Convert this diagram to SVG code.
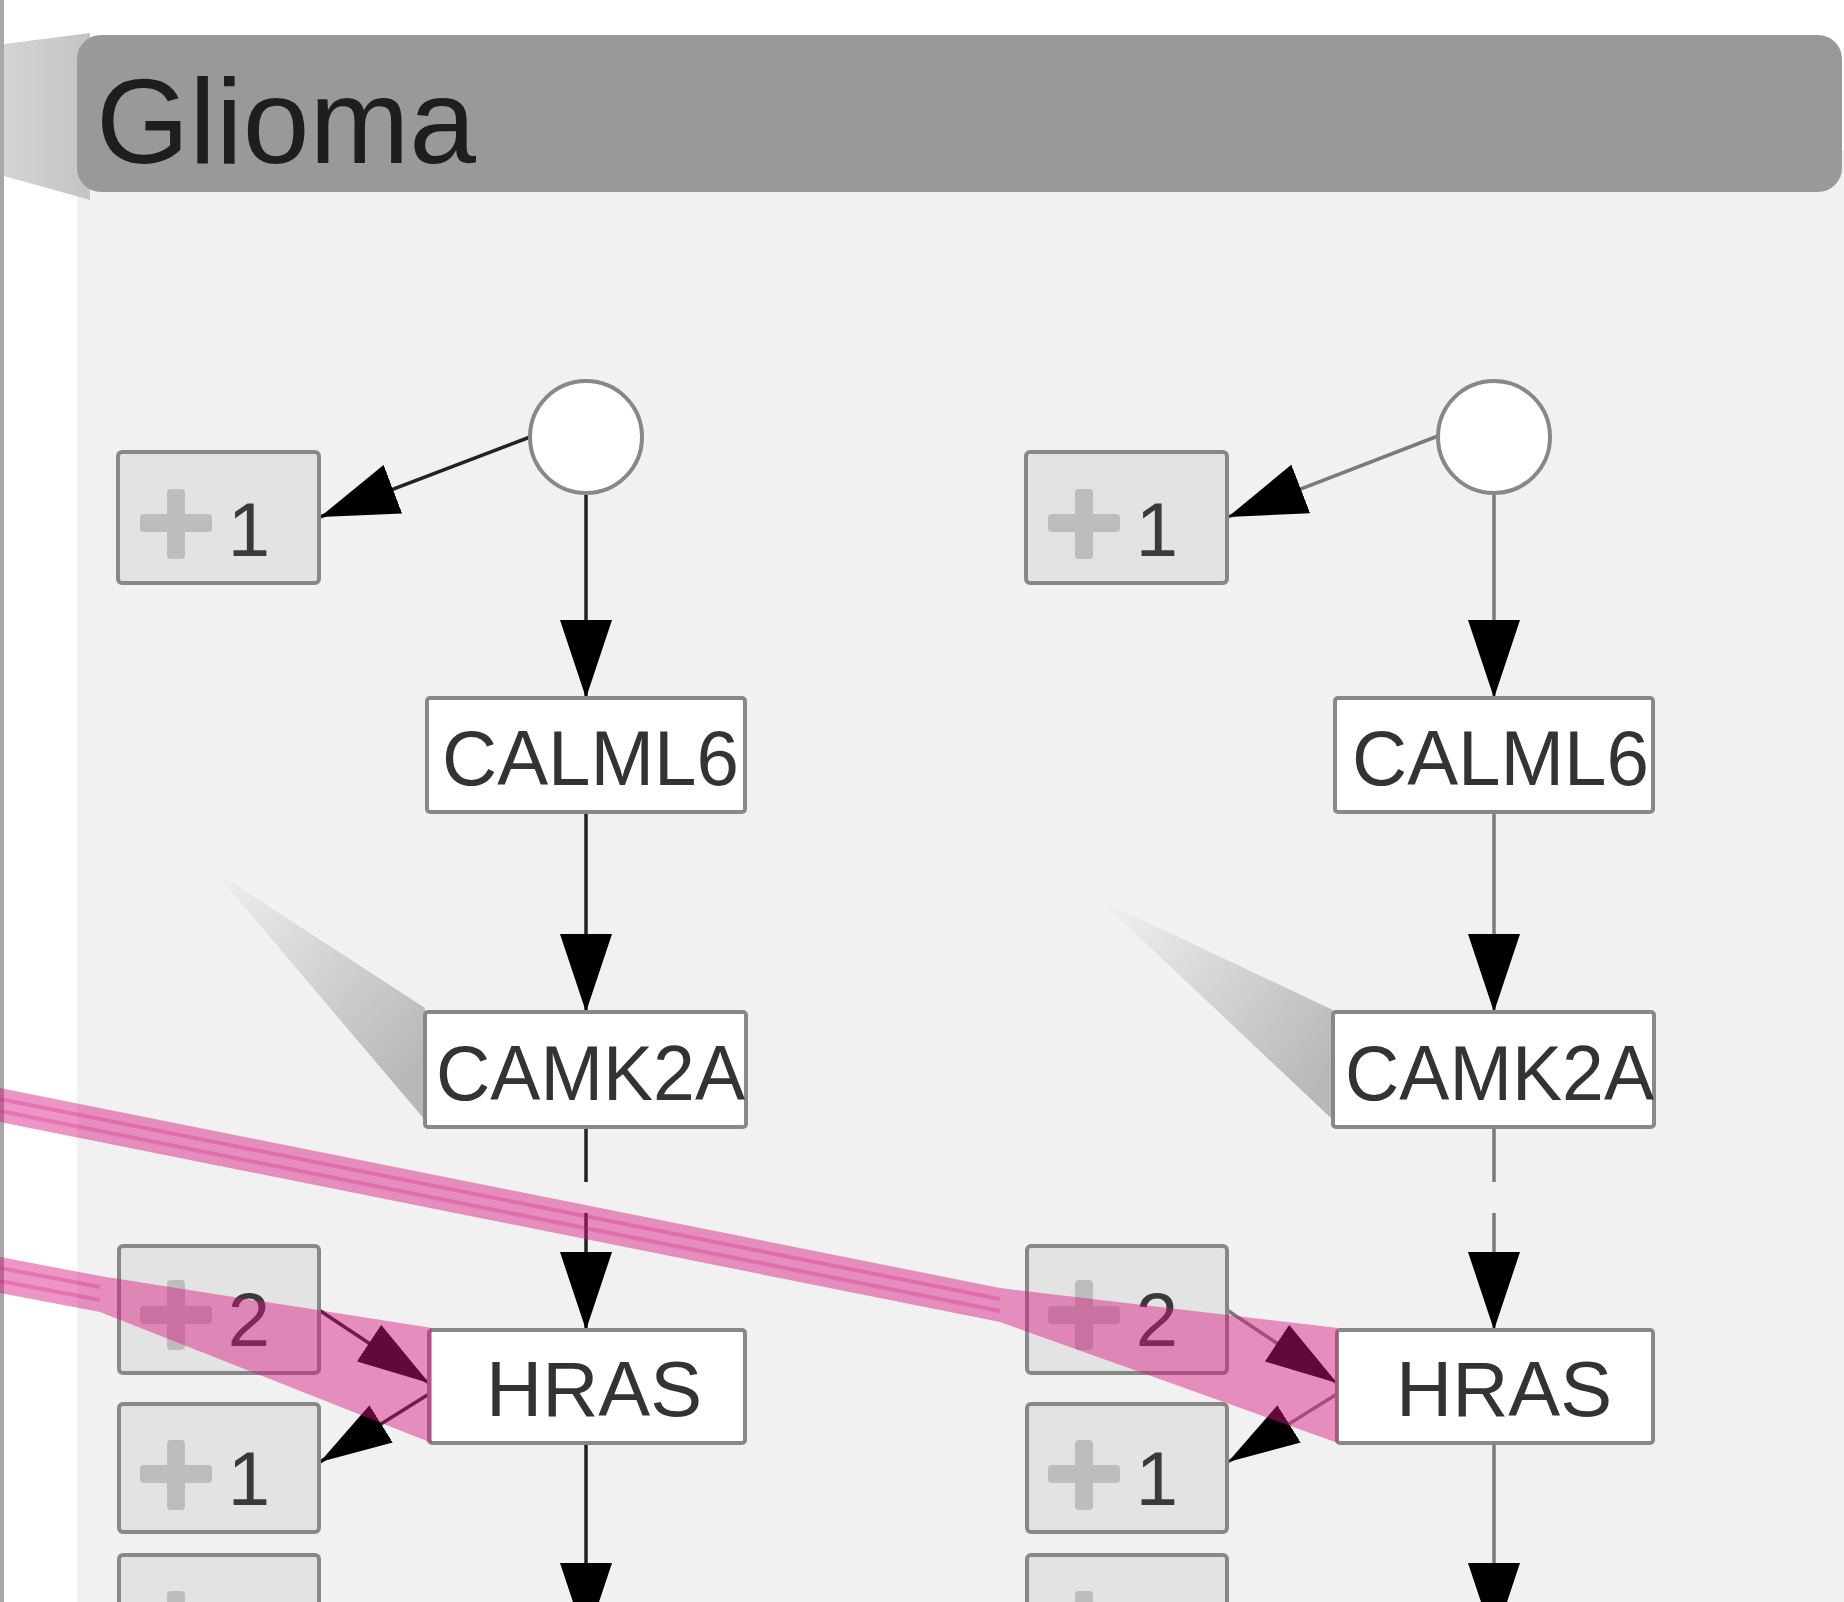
<svg xmlns="http://www.w3.org/2000/svg" width="1844" height="1602" viewBox="0 0 1844 1602">
  <defs>
    <style>
      .edge { stroke:#222; stroke-width:3.5; fill:none; }
      .edgeR { stroke:#7a7a7a; stroke-width:3.5; fill:none; }
      .dash { stroke-dasharray:55 31; }
      .gene rect { fill:#fff; stroke:#888; stroke-width:4; }
      .lbl { font-family:"Liberation Sans", Arial, sans-serif; font-size:78px; fill:#333; }
      .cnt rect.box { fill:#e3e3e3; stroke:#888; stroke-width:4; }
      .plus { fill:#bdbdbd; }
      .num { font-family:"Liberation Sans", Arial, sans-serif; font-size:76px; fill:#3a3a3a; text-anchor:middle; }
      .pink { fill:rgb(214,20,125); fill-opacity:0.45; }
      .pinkline { stroke:rgb(214,20,125); stroke-opacity:0.25; stroke-width:4; fill:none; }
      .anchor { fill:#fff; stroke:#888; stroke-width:4; }
    </style>
    <marker id="ah" viewBox="0 0 78 52" refX="78" refY="26" markerWidth="78" markerHeight="52" orient="auto" markerUnits="userSpaceOnUse">
      <path d="M0,0 L78,26 L0,52 z" fill="#000"/>
    </marker>
    <marker id="ahs" viewBox="0 0 72 44" refX="72" refY="22" markerWidth="72" markerHeight="44" orient="auto" markerUnits="userSpaceOnUse">
      <path d="M0,0 L72,22 L0,44 z" fill="#000"/>
    </marker>
    <linearGradient id="shL" gradientUnits="userSpaceOnUse" x1="213" y1="870" x2="423" y2="1062">
      <stop offset="0" stop-color="#f0f0f0"/>
      <stop offset="1" stop-color="#b8b8b8"/>
    </linearGradient>
    <linearGradient id="shR" gradientUnits="userSpaceOnUse" x1="1100" y1="900" x2="1333" y2="1065">
      <stop offset="0" stop-color="#f2f2f2"/>
      <stop offset="1" stop-color="#b8b8b8"/>
    </linearGradient>
    <linearGradient id="side" x1="0" y1="0" x2="1" y2="0">
      <stop offset="0" stop-color="#d4d4d4"/>
      <stop offset="1" stop-color="#c4c4c4"/>
    </linearGradient>
  </defs>

  <!-- background / group frame -->
  <g id="background">
    <rect x="0" y="0" width="1844" height="1602" fill="#ffffff"/>
    <rect x="77" y="150" width="1767" height="1452" fill="#f1f1f1"/>
    <rect x="0" y="0" width="4" height="1602" fill="#a8a8a8"/>
    <polygon points="4,44 90,33 90,200 4,176" fill="url(#side)"/>
    <rect x="77" y="35" width="1765" height="157" rx="24" ry="24" fill="#999999"/>
    <text x="96" y="163" font-family="'Liberation Sans', Arial, sans-serif" font-size="120" fill="#1e1e1e">Glioma</text>
  </g>

  <!-- callout shadows -->
  <g id="shadows">
    <polygon points="213,870 425,1008 425,1120" fill="url(#shL)"/>
    <polygon points="1100,900 1333,1010 1333,1120" fill="url(#shR)"/>
  </g>

  <!-- connectors -->
  <g id="connectors">
    <line class="edge" x1="530" y1="437" x2="320" y2="517" marker-end="url(#ah)"/>
    <line class="edge" x1="586" y1="493" x2="586" y2="698" marker-end="url(#ah)"/>
    <line class="edge" x1="586" y1="812" x2="586" y2="1012" marker-end="url(#ah)"/>
    <line class="edge dash" x1="586" y1="1127" x2="586" y2="1330" marker-end="url(#ah)"/>
    <line class="edge" x1="586" y1="1443" x2="586" y2="1641" marker-end="url(#ah)"/>
    <line class="edge" x1="319" y1="1310" x2="429" y2="1383" marker-end="url(#ahs)"/>
    <line class="edge" x1="429" y1="1394" x2="320" y2="1462" marker-end="url(#ahs)"/>

    <line class="edgeR" x1="1438" y1="436" x2="1228" y2="517" marker-end="url(#ah)"/>
    <line class="edgeR" x1="1494" y1="493" x2="1494" y2="698" marker-end="url(#ah)"/>
    <line class="edgeR" x1="1494" y1="812" x2="1494" y2="1012" marker-end="url(#ah)"/>
    <line class="edgeR dash" x1="1494" y1="1127" x2="1494" y2="1330" marker-end="url(#ah)"/>
    <line class="edgeR" x1="1494" y1="1443" x2="1494" y2="1641" marker-end="url(#ah)"/>
    <line class="edgeR" x1="1227" y1="1310" x2="1337" y2="1383" marker-end="url(#ahs)"/>
    <line class="edgeR" x1="1337" y1="1394" x2="1228" y2="1462" marker-end="url(#ahs)"/>
  </g>

  <!-- left column nodes -->
  <g id="anchor-left"><circle class="anchor" cx="586" cy="437" r="56"/></g>
  <g id="count-left-top" class="cnt">
    <rect class="box" x="118" y="452" width="201" height="131" rx="4"/>
    <rect class="plus" x="140" y="514" width="72" height="18" rx="4"/>
    <rect class="plus" x="167" y="489" width="18" height="70" rx="4"/>
    <text class="num" x="249" y="556">1</text>
  </g>
  <g id="gene-CALML6-left" class="gene">
    <rect x="427" y="698" width="318" height="114" rx="3"/>
    <text class="lbl" x="442" y="785" textLength="297" lengthAdjust="spacingAndGlyphs">CALML6</text>
  </g>
  <g id="gene-CAMK2A-left" class="gene">
    <rect x="425" y="1012" width="321" height="115" rx="3"/>
    <text class="lbl" x="436" y="1100" textLength="309" lengthAdjust="spacingAndGlyphs">CAMK2A</text>
  </g>
  <g id="gene-HRAS-left" class="gene">
    <rect x="429" y="1330" width="316" height="113" rx="3"/>
    <text class="lbl" x="486" y="1416" textLength="216" lengthAdjust="spacingAndGlyphs">HRAS</text>
  </g>
  <g id="count-left-2" class="cnt">
    <rect class="box" x="119" y="1246" width="200" height="127" rx="4"/>
    <rect class="plus" x="140" y="1306" width="72" height="18" rx="4"/>
    <rect class="plus" x="167" y="1280" width="18" height="70" rx="4"/>
    <text class="num" x="249" y="1346">2</text>
  </g>
  <g id="count-left-1" class="cnt">
    <rect class="box" x="119" y="1404" width="200" height="128" rx="4"/>
    <rect class="plus" x="140" y="1465" width="72" height="18" rx="4"/>
    <rect class="plus" x="167" y="1440" width="18" height="70" rx="4"/>
    <text class="num" x="249" y="1505">1</text>
  </g>
  <g id="count-left-3" class="cnt">
    <rect class="box" x="119" y="1555" width="200" height="128" rx="4"/>
    <rect class="plus" x="167" y="1591" width="18" height="70" rx="4"/>
  </g>

  <!-- right column nodes -->
  <g id="anchor-right"><circle class="anchor" cx="1494" cy="437" r="56"/></g>
  <g id="count-right-top" class="cnt">
    <rect class="box" x="1026" y="452" width="201" height="131" rx="4"/>
    <rect class="plus" x="1048" y="514" width="72" height="18" rx="4"/>
    <rect class="plus" x="1075" y="489" width="18" height="70" rx="4"/>
    <text class="num" x="1157" y="556">1</text>
  </g>
  <g id="gene-CALML6-right" class="gene">
    <rect x="1335" y="698" width="318" height="114" rx="3"/>
    <text class="lbl" x="1352" y="785" textLength="297" lengthAdjust="spacingAndGlyphs">CALML6</text>
  </g>
  <g id="gene-CAMK2A-right" class="gene">
    <rect x="1333" y="1012" width="321" height="115" rx="3"/>
    <text class="lbl" x="1345" y="1100" textLength="309" lengthAdjust="spacingAndGlyphs">CAMK2A</text>
  </g>
  <g id="gene-HRAS-right" class="gene">
    <rect x="1337" y="1330" width="316" height="113" rx="3"/>
    <text class="lbl" x="1396" y="1416" textLength="216" lengthAdjust="spacingAndGlyphs">HRAS</text>
  </g>
  <g id="count-right-2" class="cnt">
    <rect class="box" x="1027" y="1246" width="200" height="127" rx="4"/>
    <rect class="plus" x="1048" y="1306" width="72" height="18" rx="4"/>
    <rect class="plus" x="1075" y="1280" width="18" height="70" rx="4"/>
    <text class="num" x="1157" y="1346">2</text>
  </g>
  <g id="count-right-1" class="cnt">
    <rect class="box" x="1027" y="1404" width="200" height="128" rx="4"/>
    <rect class="plus" x="1048" y="1465" width="72" height="18" rx="4"/>
    <rect class="plus" x="1075" y="1440" width="18" height="70" rx="4"/>
    <text class="num" x="1157" y="1505">1</text>
  </g>
  <g id="count-right-3" class="cnt">
    <rect class="box" x="1027" y="1555" width="200" height="128" rx="4"/>
    <rect class="plus" x="1075" y="1591" width="18" height="70" rx="4"/>
  </g>

  <!-- pink highlighted paths -->
  <g id="highlight">
    <polygon class="pink" points="0,1088 1000,1288 1338,1328 1338,1443 1000,1322 0,1122"/>
    <path class="pinkline" d="M0,1099 L1000,1299"/>
    <path class="pinkline" d="M0,1111 L1000,1311"/>
    <polygon class="pink" points="0,1257 100,1276 432,1328 432,1443 100,1312 0,1293"/>
    <path class="pinkline" d="M0,1268 L100,1287"/>
    <path class="pinkline" d="M0,1281 L100,1300"/>
  </g>
</svg>
